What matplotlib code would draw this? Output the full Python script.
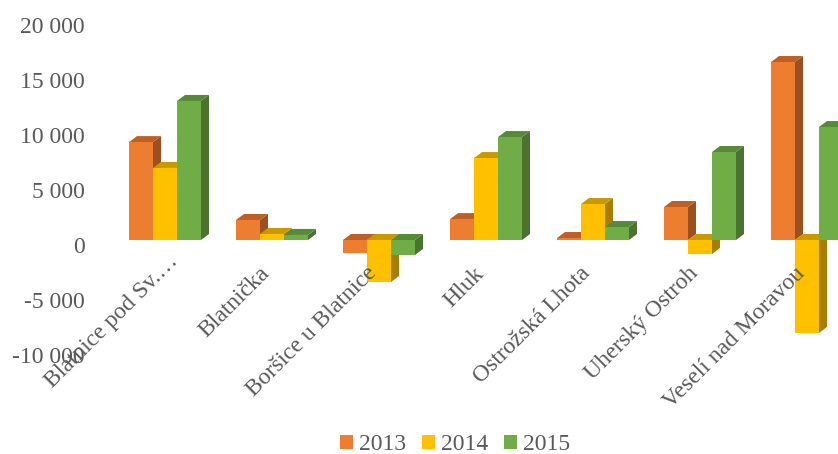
import matplotlib
matplotlib.use("Agg")
import matplotlib.pyplot as plt
from matplotlib.patches import Patch
from matplotlib.transforms import ScaledTranslation

categories = ["Blatnice pod Sv.…", "Blatnička", "Boršice u Blatnice", "Hluk",
              "Ostrožská Lhota", "Uherský Ostroh", "Veselí nad Moravou"]
years = ["2013", "2014", "2015"]
v2013 = [8900, 1820, -1180, 1900, 180, 3000, 16180]
v2014 = [6550, 550, -3820, 7450, 3270, -1270, -8450]
v2015 = [12640, 460, -1360, 9360, 1180, 8000, 10270]
yticks = [-10000, -5000, 0, 5000, 10000, 15000, 20000]
ytick_labels = ["-10 000", "-5 000", "0", "5 000", "10 000", "15 000", "20 000"]
front = ["#ED7D31", "#FFC000", "#70AD47"]
top = ["#BE5F26", "#C99A00", "#568A38"]
side = ["#9C4F1F", "#A87E00", "#4A7230"]

W, H = 838, 454
plt.rcParams["font.family"] = ["Liberation Serif", "DejaVu Serif"]
fig = plt.figure(figsize=(W / 100, H / 100), dpi=100)
left, right, ytop, ybot = 112, 838, 20, 350
ax = fig.add_axes([left / W, 1 - ybot / H, (right - left) / W, (ybot - ytop) / H])

pitch = 107.0
ax.set_xlim((left - 165) / pitch, (right - 165) / pitch)
ax.set_ylim(-10000, 20000)
bw = 24 / pitch
dx = 8 / pitch
dy = 6 / 0.011

for j, vals in enumerate([v2013, v2014, v2015]):
    for i, v in enumerate(vals):
        x0 = i + (j - 1.5) * bw
        x1 = x0 + bw
        hi, lo = max(v, 0), min(v, 0)
        ax.fill([x1, x1, x1 + dx, x1 + dx], [lo, hi, hi + dy, lo + dy],
                color=side[j], lw=0, zorder=1)
        ax.fill([x0, x1, x1 + dx, x0 + dx], [hi, hi, hi + dy, hi + dy],
                color=top[j], lw=0, zorder=1)
        ax.bar(x0, v, width=bw, align="edge", color=front[j], lw=0, zorder=1)

for s in ax.spines.values():
    s.set_visible(False)
ax.patch.set_alpha(0)

ax.set_yticks(yticks, ytick_labels)
ax.tick_params(axis="y", length=0, pad=19.5, labelsize=17, labelcolor="#595959")
shift = ScaledTranslation(0, -5 / 100, fig.dpi_scale_trans)
for lab in ax.get_yticklabels():
    lab.set_transform(lab.get_transform() + shift)

ax.set_xticks(range(len(categories)), categories)
ax.tick_params(axis="x", length=0, pad=-62, labelsize=17, labelcolor="#595959")
for k, lab in enumerate(ax.get_xticklabels()):
    lab.set_rotation(45)
    lab.set_ha("right")
    lab.set_va("top")
    lab.set_rotation_mode("anchor")

# tick labels re-read their transform at draw time, so move them with a wrapper
orig_draw = matplotlib.axis.XTick.draw
def draw(self, renderer):
    k = int(round(self.get_loc()))
    ox, oy = (2, 13) if k == 0 else (-13, 1)
    base = self.label1.get_transform()
    self.label1.set_transform(base + ScaledTranslation(ox / 100, oy / 100, fig.dpi_scale_trans))
    orig_draw(self, renderer)
    self.label1.set_transform(base)
matplotlib.axis.XTick.draw = draw

handles = [Patch(color=c, lw=0) for c in front]
fig.legend(handles, years, loc="center", bbox_to_anchor=(455 / W, 1 - 445 / H),
           ncol=3, frameon=False, fontsize=17, labelcolor="#595959",
           handlelength=0.55, handleheight=0.55, handletextpad=0.25,
           columnspacing=0.68, borderpad=0)

fig.savefig("out.png", dpi=100)
